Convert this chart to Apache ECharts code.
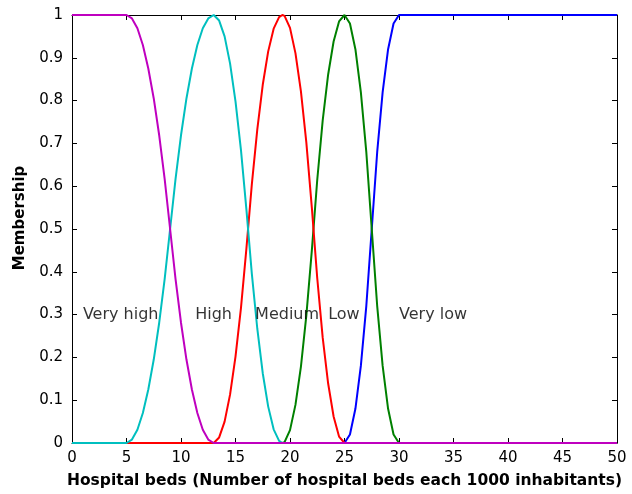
<!DOCTYPE html>
<html>
<head>
    <meta charset="UTF-8">
    <title>Hospital beds membership</title>
    <script src="https://cdn.jsdelivr.net/npm/echarts/dist/echarts.min.js"></script>
</head>
<body style="margin:0;background:#fff">
    <div id="main" style="width: 632px; height: 494px;"></div>
    <script>
        // membership curves
        var veryHighX = [0, 5, 5.5, 6, 6.5, 7, 7.5, 8, 8.5, 9, 9.5, 10, 10.5, 11, 11.5, 12, 12.5, 13, 50];
        var veryHighY = [1, 1, 0.992, 0.969, 0.930, 0.875, 0.805, 0.719, 0.617, 0.5, 0.383, 0.281, 0.195, 0.125, 0.070, 0.031, 0.008, 0, 0];

        var highX = [0, 5, 5.5, 6, 6.5, 7, 7.5, 8, 8.5, 9, 9.5, 10, 10.5, 11, 11.5, 12, 12.5, 13,
            13.5, 14, 14.5, 15, 15.5, 16, 16.5, 17, 17.5, 18, 18.5, 19, 19.3, 50];
        var highY = [0, 0, 0.008, 0.031, 0.070, 0.125, 0.195, 0.281, 0.383, 0.5, 0.617, 0.719, 0.805, 0.875, 0.930, 0.969, 0.992, 1,
            0.987, 0.950, 0.887, 0.798, 0.685, 0.546, 0.395, 0.267, 0.163, 0.085, 0.032, 0.005, 0, 0];

        var mediumX = [0, 13, 13.5, 14, 14.5, 15, 15.5, 16, 16.5, 17, 17.5, 18, 18.5, 19, 19.3,
            19.5, 20, 20.5, 21, 21.5, 22, 22.5, 23, 23.5, 24, 24.5, 25, 50];
        var mediumY = [0, 0, 0.013, 0.050, 0.113, 0.202, 0.315, 0.454, 0.605, 0.733, 0.837, 0.915, 0.968, 0.995, 1,
            0.998, 0.970, 0.911, 0.822, 0.702, 0.551, 0.385, 0.246, 0.139, 0.062, 0.015, 0, 0];

        var lowX = [0, 19.3, 19.5, 20, 20.5, 21, 21.5, 22, 22.5, 23, 23.5, 24, 24.5, 25,
            25.5, 26, 26.5, 27, 27.5, 28, 28.5, 29, 29.5, 30, 50];
        var lowY = [0, 0, 0.002, 0.030, 0.089, 0.178, 0.298, 0.449, 0.615, 0.754, 0.861, 0.938, 0.985, 1,
            0.98, 0.92, 0.82, 0.68, 0.5, 0.32, 0.18, 0.08, 0.02, 0, 0];

        var veryLowX = [0, 25, 25.5, 26, 26.5, 27, 27.5, 28, 28.5, 29, 29.5, 30, 50];
        var veryLowY = [0, 0, 0.02, 0.08, 0.18, 0.32, 0.5, 0.68, 0.82, 0.92, 0.98, 1, 1];

        var labelNames = ['Very high', 'High', 'Medium', 'Low', 'Very low'];
        var labelX = [1, 11.3, 16.8, 23.5, 30];
        var labelY = [0.3, 0.3, 0.3, 0.3, 0.3];

        var FONT = 'DejaVu Sans, sans-serif';

        function pairs(xs, ys) {
            var out = [];
            for (var i = 0; i < xs.length; i++) out.push([xs[i], ys[i]]);
            return out;
        }

        function curve(name, xs, ys, color) {
            return {
                name: name,
                type: 'line',
                data: pairs(xs, ys),
                symbol: 'none',
                lineStyle: {color: color, width: 2},
                animation: false
            };
        }

        var axisLine = {show: true, onZero: false, lineStyle: {color: '#000', width: 1}};
        var axisTick = {show: true, inside: true, length: 5, lineStyle: {color: '#000'}};

        var myChart = echarts.init(document.getElementById('main'));
        var option = {
            backgroundColor: '#fff',
            animation: false,
            grid: {left: 72, right: 15, top: 15, bottom: 50},
            xAxis: [
                {
                    type: 'value', min: 0, max: 50, interval: 5,
                    axisLine: axisLine, axisTick: axisTick,
                    splitLine: {show: false},
                    axisLabel: {color: '#000', fontSize: 15, fontFamily: FONT, margin: 8},
                    name: 'Hospital beds (Number of hospital beds each 1000 inhabitants)',
                    nameLocation: 'middle', nameGap: 30,
                    nameTextStyle: {color: '#000', fontSize: 15.5, fontWeight: 'bold', fontFamily: FONT}
                }, {
                    type: 'value', min: 0, max: 50, interval: 5, position: 'top',
                    axisLine: axisLine, axisTick: axisTick,
                    splitLine: {show: false}, axisLabel: {show: false}
                }
            ],
            yAxis: [
                {
                    type: 'value', min: 0, max: 1, interval: 0.1,
                    axisLine: axisLine, axisTick: axisTick,
                    splitLine: {show: false},
                    axisLabel: {color: '#000', fontSize: 15, fontFamily: FONT, margin: 9},
                    name: 'Membership',
                    nameLocation: 'middle', nameGap: 44,
                    nameTextStyle: {color: '#000', fontSize: 15, fontWeight: 'bold', fontFamily: FONT,
                        padding: [0, 0, 0, 22]}
                }, {
                    type: 'value', min: 0, max: 1, interval: 0.1, position: 'right',
                    axisLine: axisLine, axisTick: axisTick,
                    splitLine: {show: false}, axisLabel: {show: false}
                }
            ],
            series: [
                curve('Very low', veryLowX, veryLowY, '#0000ff'),
                curve('Low', lowX, lowY, '#008000'),
                curve('Medium', mediumX, mediumY, '#ff0000'),
                curve('High', highX, highY, '#00bfbf'),
                curve('Very high', veryHighX, veryHighY, '#bf00bf'),
                {
                    type: 'scatter',
                    symbolSize: 0,
                    silent: true,
                    z: 5,
                    data: labelNames.map(function (n, i) {
                        return {name: n, value: [labelX[i], labelY[i]]};
                    }),
                    label: {
                        show: true, position: 'right', distance: 0,
                        formatter: '{b}', color: '#000', fontSize: 16, fontFamily: FONT
                    }
                }
            ]
        };
        myChart.setOption(option);
    </script>
</body>
</html>
